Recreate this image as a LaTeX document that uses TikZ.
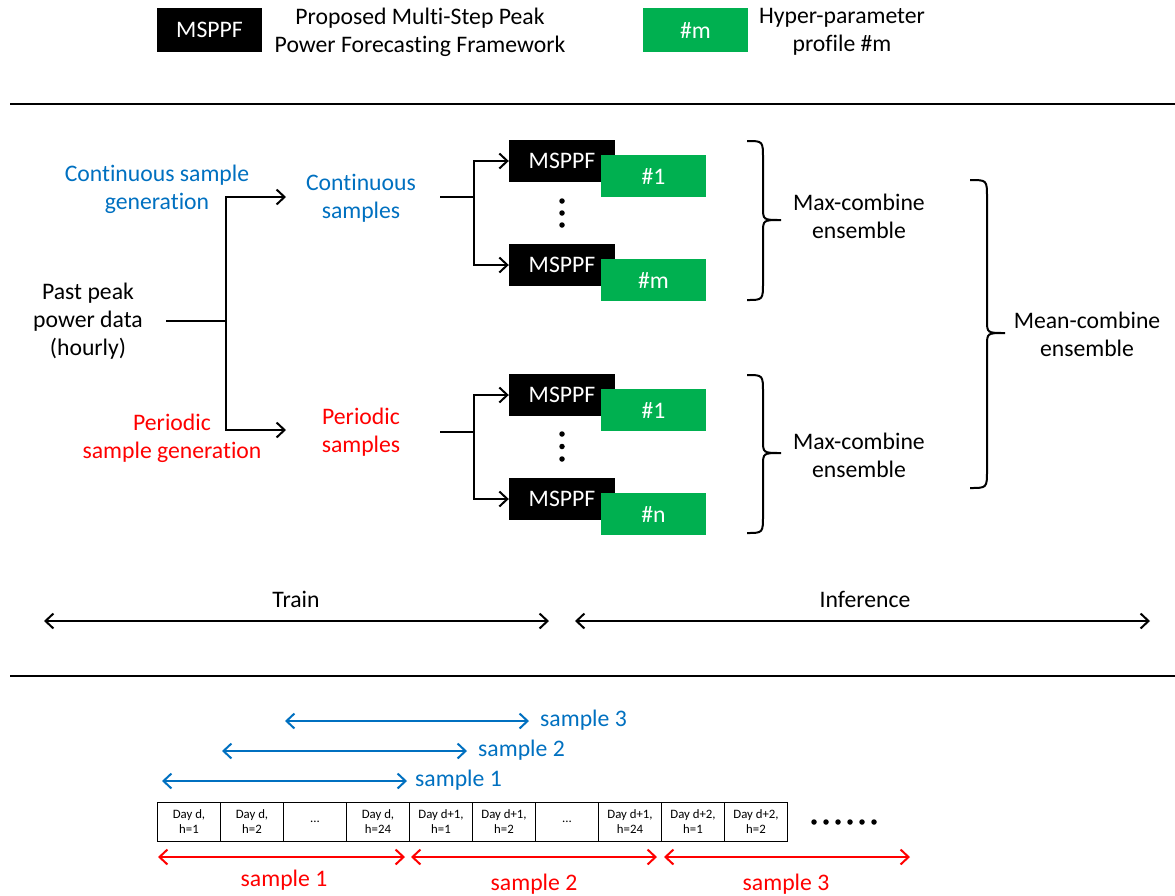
\documentclass[tikz,border=0pt]{standalone}
\usepackage{fontspec}
\setmainfont{Carlito}[Ligatures={NoCommon}]
\usetikzlibrary{arrows.meta}
\definecolor{obl}{RGB}{0,112,192}
\definecolor{ogr}{RGB}{0,176,80}
\definecolor{ored}{RGB}{255,0,0}
\tikzset{
  txt/.style={align=center,inner sep=0pt,font=\fontsize{23.7}{28}\selectfont},
  mbox/.style={fill=black,text=white,minimum width=106pt,minimum height=42pt,inner sep=0pt,font=\fontsize{23.7}{28}\selectfont},
  gbox/.style={fill=ogr,text=white,minimum width=105pt,minimum height=42pt,inner sep=0pt,font=\fontsize{23.7}{28}\selectfont},
  conn/.style={line width=2pt},
  arr/.style={line width=2pt,-{Straight Barb[length=8pt,width=15pt,line width=2pt]}},
  darr/.style={line width=2pt,{Straight Barb[length=8pt,width=15pt,line width=2pt]}-{Straight Barb[length=8pt,width=15pt,line width=2pt]}},
  brc/.style={line width=2pt},
  cell/.style={draw,line width=1.2pt,minimum width=63pt,minimum height=39pt,inner sep=0pt,align=center,font=\fontsize{12.8}{15}\selectfont},
  dot/.style={circle,fill=black,inner sep=0pt,minimum size=5.5pt},
}
\begin{document}
\begin{tikzpicture}[x=1pt,y=-1pt]
\useasboundingbox (0,0) rectangle (1175,895);
% legend
\node[mbox,minimum width=105pt,minimum height=44pt] (lgm) at (209.5,30) {MSPPF};
\node[txt] (lgt) at (420,32) {Proposed Multi-Step Peak\\Power Forecasting Framework};
\node[gbox,minimum height=44pt] (lgg) at (695.5,30) {\#m};
\node[txt] (lggt) at (842,32) {Hyper-parameter\\profile \#m};
% separators
\draw[line width=1.5pt] (10,104) -- (1175,104);
\draw[line width=1.5pt] (10,676) -- (1175,676);
% left part
\node[txt,text=obl] (cgen) at (157,189) {Continuous sample\\generation};
\node[txt] (past) at (88,321) {Past peak\\power data\\(hourly)};
\node[txt,text=ored] (pgen) at (172,438) {Periodic\\sample generation};
\node[txt,text=obl] (csam) at (361,198) {Continuous\\samples};
\node[txt,text=ored] (psam) at (361,432) {Periodic\\samples};
\coordinate (p0) at (166,321);
\coordinate (j1) at (226,321);
\coordinate (a1) at (286,197);
\coordinate (a2) at (286,430);
\draw[conn] (p0) -- (j1);
\draw[arr] (j1) |- (a1);
\draw[arr] (j1) |- (a2);
% upper ensemble
\node[mbox] (m1) at (562,161) {MSPPF};
\node[gbox] (g1) at (653.5,176) {\#1};
\node[mbox] (m2) at (562,265) {MSPPF};
\node[gbox] (g2) at (653.5,280) {\#m};
\node[dot] (d1) at (562,201) {};
\node[dot] (d2) at (562,213) {};
\node[dot] (d3) at (562,225) {};
\coordinate (u0) at (440,197);
\coordinate (u1) at (474,197);
\draw[conn] (u0) -- (u1);
\draw[arr] (u1) |- (m1.west);
\draw[arr] (u1) |- (m2.west);
% lower ensemble
\node[mbox] (m3) at (562,395) {MSPPF};
\node[gbox] (g3) at (653.5,410) {\#1};
\node[mbox] (m4) at (562,499) {MSPPF};
\node[gbox] (g4) at (653.5,514) {\#n};
\node[dot] (d4) at (562,434) {};
\node[dot] (d5) at (562,446.5) {};
\node[dot] (d6) at (562,459) {};
\coordinate (l0) at (440,432);
\coordinate (l1) at (474,432);
\draw[conn] (l0) -- (l1);
\draw[arr] (l1) |- (m3.west);
\draw[arr] (l1) |- (m4.west);
% braces
\draw[brc] (747,141) .. controls (763,141) .. (763,159) -- (763,207) .. controls (763,220) .. (781,220) .. controls (763,220) .. (763,233) -- (763,282) .. controls (763,300) .. (747,300);
\draw[brc] (747,375) .. controls (763,375) .. (763,393) -- (763,440) .. controls (763,453) .. (781,453) .. controls (763,453) .. (763,466) -- (763,515) .. controls (763,533) .. (747,533);
\draw[brc] (970,180) .. controls (987,180) .. (987,198) -- (987,320) .. controls (987,333) .. (1005,333) .. controls (987,333) .. (987,346) -- (987,470) .. controls (987,488) .. (970,488);
\node[txt] (mx1) at (859,216) {Max-combine\\ensemble};
\node[txt] (mx2) at (859,455) {Max-combine\\ensemble};
\node[txt] (mean) at (1087,334) {Mean-combine\\ensemble};
% train / inference
\node[txt] (train) at (296,599) {Train};
\node[txt] (inf) at (865,599) {Inference};
\coordinate (t0) at (44,621);
\coordinate (t1) at (549,621);
\coordinate (i0) at (575,621);
\coordinate (i1) at (1150,621);
\draw[darr] (t0) -- (t1);
\draw[darr] (i0) -- (i1);
% bottom: continuous samples
\coordinate (b1a) at (162,781);
\coordinate (b1b) at (407,781);
\coordinate (b2a) at (222,751);
\coordinate (b2b) at (467,751);
\coordinate (b3a) at (285,721);
\coordinate (b3b) at (529,721);
\draw[darr,obl] (b1a) -- (b1b);
\draw[darr,obl] (b2a) -- (b2b);
\draw[darr,obl] (b3a) -- (b3b);
\node[txt,text=obl,anchor=west] (s1) at (415,780) {sample 1};
\node[txt,text=obl,anchor=west] (s2) at (478,750) {sample 2};
\node[txt,text=obl,anchor=west] (s3) at (540,720) {sample 3};
% table
\node[cell] (c1) at (189,822) {Day d,\\h=1};
\node[cell] (c2) at (252,822) {Day d,\\h=2};
\node[cell] (c3) at (315,822) {...};
\node[cell] (c4) at (378,822) {Day d,\\h=24};
\node[cell] (c5) at (441,822) {Day d+1,\\h=1};
\node[cell] (c6) at (504,822) {Day d+1,\\h=2};
\node[cell] (c7) at (567,822) {...};
\node[cell] (c8) at (630,822) {Day d+1,\\h=24};
\node[cell] (c9) at (693,822) {Day d+2,\\h=1};
\node[cell] (c10) at (756,822) {Day d+2,\\h=2};
\foreach \i/\xx in {1/814,2/826,3/838,4/850,5/862,6/874} {\node[dot] (e\i) at (\xx,822) {};}
% periodic samples
\coordinate (r1a) at (158,857);
\coordinate (r1b) at (405,857);
\coordinate (r2a) at (411,857);
\coordinate (r2b) at (657,857);
\coordinate (r3a) at (664,857);
\coordinate (r3b) at (910,857);
\draw[darr,ored] (r1a) -- (r1b);
\draw[darr,ored] (r2a) -- (r2b);
\draw[darr,ored] (r3a) -- (r3b);
\node[txt,text=ored] (q1) at (284,880) {sample 1};
\node[txt,text=ored] (q2) at (534,884) {sample 2};
\node[txt,text=ored] (q3) at (786,884) {sample 3};
\end{tikzpicture}
\end{document}
